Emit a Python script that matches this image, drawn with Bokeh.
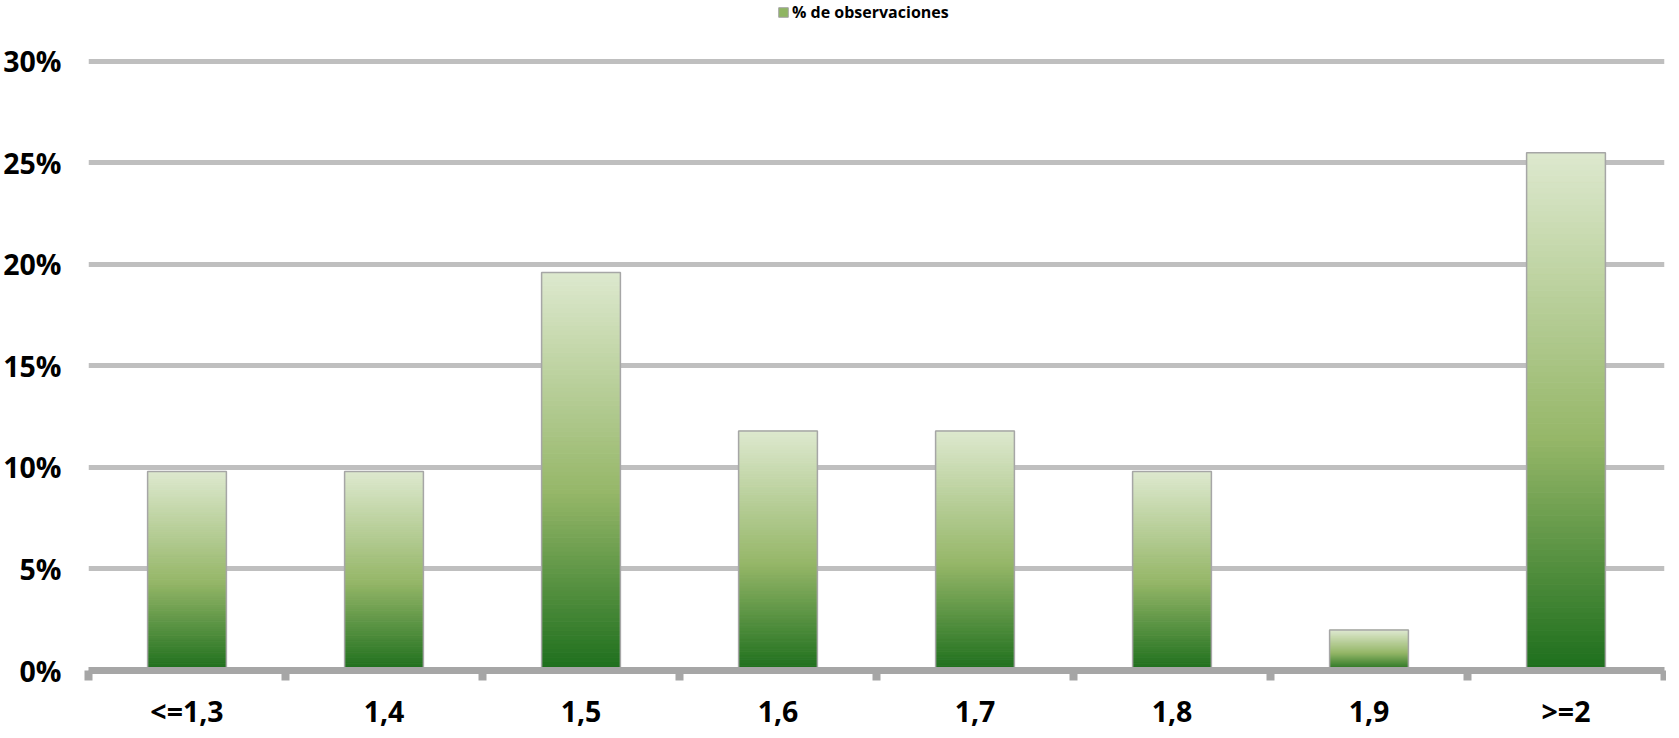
from bokeh.plotting import figure
from bokeh.models import (Range1d, FixedTicker, CustomJSTickFormatter, PrintfTickFormatter,
                          Legend, LegendItem, ColumnDataSource)
from bokeh.embed import file_html
from bokeh.resources import INLINE

# ---- data ----
categories = ["<=1,3", "1,4", "1,5", "1,6", "1,7", "1,8", "1,9", ">=2"]
pct_observaciones = [9.8, 9.8, 19.6, 11.8, 11.8, 9.8, 2.0, 25.5]
series_name = "% de observaciones"
y_ticks = [0, 5, 10, 15, 20, 25, 30]

# gradient stops (fraction of bar height from bottom, rgb)
stops = [(0.0, (28, 110, 28)), (0.45, (150, 183, 105)), (1.0, (221, 233, 206))]


def grad_color(t):
    for (t0, c0), (t1, c1) in zip(stops[:-1], stops[1:]):
        if t <= t1:
            f = (t - t0) / (t1 - t0)
            return "#%02x%02x%02x" % tuple(int(round(a + (b - a) * f)) for a, b in zip(c0, c1))
    return "#%02x%02x%02x" % stops[-1][1]


FONT = "Open Sans"
n = len(categories)
bar_w = 0.4
FW, FH = 1576, 670

# frame extends above the 30% line so the legend (inside the frame) sits at the top
p = figure(frame_width=FW, frame_height=FH, output_backend="svg", toolbar_location=None,
           x_range=Range1d(0, n), y_range=Range1d(0, 33.0),
           min_border_left=85, min_border_right=2, min_border_top=0, min_border_bottom=0)
p.outline_line_color = None
p.background_fill_color = "white"

# gradient slices
N = 90
left, right, bottom, top, color = [], [], [], [], []
for i, v in enumerate(pct_observaciones):
    for k in range(N):
        left.append(i + 0.5 - bar_w / 2)
        right.append(i + 0.5 + bar_w / 2)
        bottom.append(v * k / N)
        top.append(v * (k + 1) / N)
        color.append(grad_color((k + 0.5) / N))
src = ColumnDataSource(dict(left=left, right=right, bottom=bottom, top=top, color=color))
p.quad(left="left", right="right", bottom="bottom", top="top", source=src,
       fill_color="color", line_color="color", line_width=1)

xs = [i + 0.5 for i in range(n)]
p.vbar(x=xs, top=pct_observaciones, width=bar_w, bottom=0,
       fill_alpha=0, line_color="#a6a6a6", line_width=1.5)

# legend proxy
proxy = p.vbar(x=[-5], top=[0], width=0.1, fill_color="#8fb562", line_color="#a6a6a6", line_width=1)
legend = Legend(items=[LegendItem(label=series_name, renderers=[proxy])],
                location=(689, FH - 23), orientation="horizontal",
                glyph_width=12, glyph_height=12, label_standoff=3, padding=0, margin=0,
                border_line_color=None, background_fill_alpha=0,
                label_text_font=FONT, label_text_font_style="bold", label_text_font_size="16px",
                label_text_color="black")
p.add_layout(legend, "center")

# grid
p.xgrid.grid_line_color = None
p.ygrid.ticker = FixedTicker(ticks=y_ticks)
p.ygrid.grid_line_color = "#bfbfbf"
p.ygrid.grid_line_width = 5

# y axis
p.yaxis.ticker = FixedTicker(ticks=y_ticks)
p.yaxis.formatter = PrintfTickFormatter(format="%d%%")
p.yaxis.axis_line_color = None
p.yaxis.major_tick_line_color = None
p.yaxis.major_tick_out = 0
p.yaxis.minor_tick_line_color = None
p.yaxis.minor_tick_out = 0
p.yaxis.major_label_standoff = 27
p.yaxis.major_label_text_font = FONT
p.yaxis.major_label_text_font_style = "bold"
p.yaxis.major_label_text_font_size = "28.5px"
p.yaxis.major_label_text_color = "black"

# x axis
p.xaxis.ticker = FixedTicker(ticks=xs, minor_ticks=list(range(n + 1)))
p.xaxis.formatter = CustomJSTickFormatter(args=dict(cats=categories),
                                          code="return cats[Math.floor(tick)];")
p.xaxis.axis_line_color = "#a6a6a6"
p.xaxis.axis_line_width = 7
p.xaxis.major_tick_line_color = None
p.xaxis.major_tick_out = 0
p.xaxis.minor_tick_line_color = "#a6a6a6"
p.xaxis.minor_tick_line_width = 8
p.xaxis.minor_tick_out = 10
p.xaxis.minor_tick_in = 0
p.xaxis.major_label_standoff = 11
p.xaxis.major_label_text_font = FONT
p.xaxis.major_label_text_font_style = "bold"
p.xaxis.major_label_text_font_size = "28.5px"
p.xaxis.major_label_text_color = "black"

open("out.html", "w").write(file_html(p, INLINE))
